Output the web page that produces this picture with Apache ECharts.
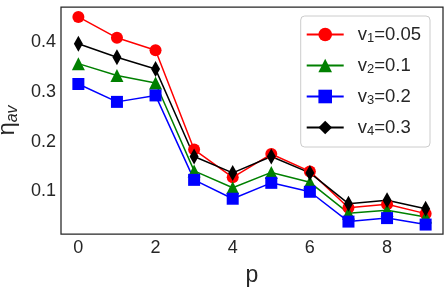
<!DOCTYPE html>
<html><head><meta charset="utf-8">
<script src="https://cdn.jsdelivr.net/npm/echarts@6/dist/echarts.min.js"></script>
<style>html,body{margin:0;padding:0;background:#fff}#c{width:446px;height:288px}</style>
</head><body><div id="c"></div>
<script>
const pValues = [0,1,2,3,4,5,6,7,8,9];
const v1 = [0.451,0.409,0.384,0.184,0.128,0.175,0.140,0.067,0.074,0.055];
const v2 = [0.357,0.333,0.318,0.141,0.107,0.138,0.118,0.056,0.062,0.048];
const v3 = [0.316,0.280,0.293,0.123,0.085,0.117,0.099,0.039,0.046,0.033];
const v4 = [0.397,0.370,0.346,0.170,0.137,0.170,0.137,0.075,0.082,0.065];
const seriesSubs = ['1','2','3','4'];
const seriesVals = ['0.05','0.1','0.2','0.3'];
const xTicks = [0,2,4,6,8];
const yTicks = [0.1,0.2,0.3,0.4];

const colors = ['#ff0000','#008000','#0000ff','#000000'];
const symbols = ['circle','triangle','rect','diamond'];
const sizes = [12,13,12,[9,16]];
const allData = [v1,v2,v3,v4];

const series = allData.map((arr,i)=>({
  name: 'v'+seriesSubs[i],
  type:'line',
  data: arr.map((y,k)=>[pValues[k],y]),
  symbol: symbols[i],
  symbolSize: sizes[i],
  showAllSymbol:true,
  lineStyle:{color:colors[i],width:1.5},
  itemStyle:{color:colors[i]},
  emphasis:{disabled:true},
  animation:false
}));

const chart = echarts.init(document.getElementById('c'),null,{renderer:'canvas'});
const ff = '"Liberation Sans", Arial, sans-serif';
chart.setOption({
  animation:false,
  backgroundColor:'#fff',
  textStyle:{fontFamily:ff},
  grid:{left:61,right:3,top:7,bottom:54,containLabel:false,outerBoundsMode:'none',
    show:true,borderColor:'#262626',borderWidth:1.25,backgroundColor:'transparent'},
  xAxis:{type:'value',min:-0.45,max:9.45,
    name:'p',nameLocation:'middle',nameGap:30,
    nameTextStyle:{fontSize:23,color:'#262626',fontFamily:ff},
    axisLine:{show:false},axisTick:{show:false},splitLine:{show:false},
    axisLabel:{customValues:xTicks,fontSize:18,color:'#262626',margin:5,fontFamily:ff}
  },
  yAxis:{type:'value',min:0.014,max:0.471,
    name:'{a|η}{s|av}',nameLocation:'middle',nameGap:31,nameRotate:90,
    nameTextStyle:{color:'#262626',fontFamily:ff,
      rich:{a:{fontSize:24,color:'#262626',fontFamily:ff},
            s:{fontSize:16,fontStyle:'italic',color:'#262626',fontFamily:ff,verticalAlign:'bottom',padding:[10,0,0,0]}}},
    axisLine:{show:false},axisTick:{show:false},splitLine:{show:false},
    axisLabel:{customValues:yTicks,fontSize:18,color:'#262626',margin:5,fontFamily:ff,
      formatter:v=>v.toFixed(1)}
  },
  legend:{
    orient:'vertical',right:16,top:16,
    backgroundColor:'rgba(255,255,255,0.85)',borderColor:'#cccccc',borderWidth:1,borderRadius:4,
    padding:[9,9,9,5],itemGap:11,itemWidth:37,itemHeight:17,
    formatter:function(name){
      const i = series.findIndex(s=>s.name===name);
      return '{a|v}{s|'+seriesSubs[i]+'}{a|='+seriesVals[i]+'}';
    },
    textStyle:{fontFamily:ff,color:'#262626',padding:[0,0,0,9],
      rich:{a:{fontSize:18.5,color:'#262626',fontFamily:ff,lineHeight:21},
            s:{fontSize:13,color:'#262626',fontFamily:ff,verticalAlign:'bottom',padding:[8,0,0,0]}}},
    data:series.map(s=>s.name)
  },
  series:series
});
</script></body></html>
